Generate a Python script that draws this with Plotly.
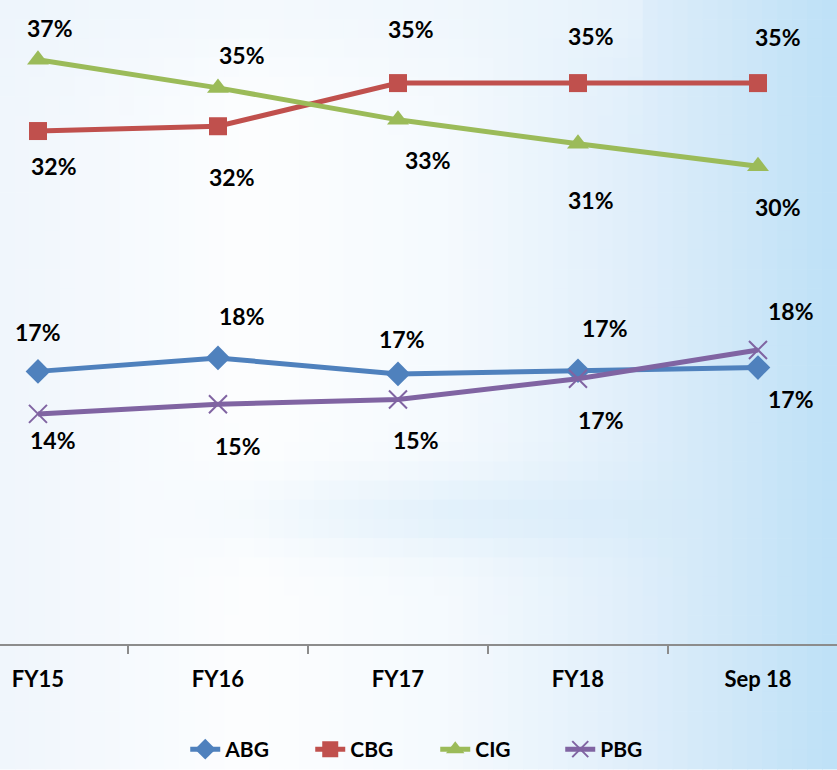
import numpy as np
import plotly.graph_objects as go

# ---- data ----
categories = ["FY15", "FY16", "FY17", "FY18", "Sep 18"]
abg = [0.1706, 0.179, 0.169, 0.171, 0.173]
cbg = [0.321, 0.324, 0.351, 0.351, 0.351]
cig = [0.3656, 0.348, 0.328, 0.313, 0.299]
pbg = [0.144, 0.150, 0.153, 0.166, 0.184]

series_names = ["ABG", "CBG", "CIG", "PBG"]
series_values = [abg, cbg, cig, pbg]
colors = ["#4F81BD", "#C0504D", "#9BBB59", "#8064A2"]
symbols = ["diamond", "square", "triangle-up", "x-thin"]
sizes = [19, 18, 19, 18]

# label offsets (pixels) per series, per point
label_dx = [[0, 24, 4, 27, 33],
            [16, 14, 13, 13, 20],
            [12, 24, 30, 13, 20],
            [15, 20, 18, 23, 33]]
label_dy = [[39, 42, 35, 43, -31],
            [-35, -51, 54, 47, 46],
            [32, 33, -40, -56, -41],
            [-26, -42, -40, -41, 39]]

FONT = "Lato"

fig = go.Figure()

# ---- background gradient (grid of soft rectangles) ----
W, H, PB = 837, 770, 125
PH = H - PB
stops_x = [0, 120, 250, 450, 620, 720, 837]
stops_c = [(240, 246, 252), (246, 250, 254), (253, 254, 255), (245, 250, 254),
           (226, 240, 251), (210, 233, 249), (190, 225, 247)]
band_c = np.array([212, 234, 249])
top_c = np.array([236, 245, 252])
nx, ny = 56, 40
xe = np.linspace(0, W, nx + 1)
ye = np.linspace(0, H, ny + 1)
shapes = []
for i in range(nx):
    xm = (xe[i] + xe[i + 1]) / 2
    base = np.array([np.interp(xm, stops_x, [s[k] for s in stops_c]) for k in range(3)])
    sx = np.clip((xm - 150) / 300, 0, 1)
    for j in range(ny):
        ym = (ye[j] + ye[j + 1]) / 2
        c = base.copy()
        wb = 0.55 * np.exp(-((ym - 515) / 40) ** 2) * sx
        c = c * (1 - wb) + band_c * wb
        wt = 0.5 * np.exp(-(ym / 70) ** 2)
        c = c * (1 - wt) + top_c * wt
        c = np.minimum(c, base) if xm > 650 else c
        shapes.append(dict(
            type="rect", xref="paper", yref="paper",
            x0=xe[i] / W, x1=xe[i + 1] / W + 0.001,
            y0=(PH - ye[j + 1]) / PH - 0.001, y1=(PH - ye[j]) / PH,
            line=dict(width=0), layer="below",
            fillcolor=f"rgb({int(c[0])},{int(c[1])},{int(c[2])})"))

annotations = []
for name, vals, col, sym, sz, dxs, dys in zip(series_names, series_values, colors,
                                              symbols, sizes, label_dx, label_dy):
    marker = dict(symbol=sym, size=sz, color=col)
    if sym == "x-thin":
        marker["line"] = dict(color=col, width=2)
    fig.add_trace(go.Scatter(
        x=categories, y=vals, name=name, mode="lines+markers",
        line=dict(color=col, width=5), marker=marker, cliponaxis=False))
    for c, v, dx, dy in zip(categories, vals, dxs, dys):
        annotations.append(dict(
            x=c, y=v, xref="x", yref="y", text=f"{round(v * 100)}%",
            showarrow=False, xshift=dx, yshift=dy,
            font=dict(family=FONT, size=23, color="black", weight="bold")))

fig.update_layout(
    width=W, height=H,
    margin=dict(l=0, r=0, t=0, b=PB),
    paper_bgcolor="white", plot_bgcolor="rgba(0,0,0,0)",
    shapes=shapes, annotations=annotations,
    showlegend=True,
    legend=dict(orientation="h", x=0.52, xanchor="center", y=-0.163,
                yanchor="middle", bgcolor="rgba(0,0,0,0)",
                font=dict(family=FONT, size=21, color="black", weight="bold"),
                entrywidth=80, tracegroupgap=0),
    xaxis=dict(type="category", range=[-0.211, 4.439], showgrid=False,
               showline=True, linecolor="#8c8c8c", linewidth=2,
               ticks="outside", tickson="boundaries", ticklen=8,
               tickcolor="#8c8c8c", tickwidth=1.5, ticklabelstandoff=15,
               tickfont=dict(family=FONT, size=22, color="black", weight="bold"),
               zeroline=False),
    yaxis=dict(range=[0, 0.403], visible=False, showgrid=False, zeroline=False),
)

fig.write_html("out.html", config={"displayModeBar": False},
               post_script="document.body.style.margin='0';")
